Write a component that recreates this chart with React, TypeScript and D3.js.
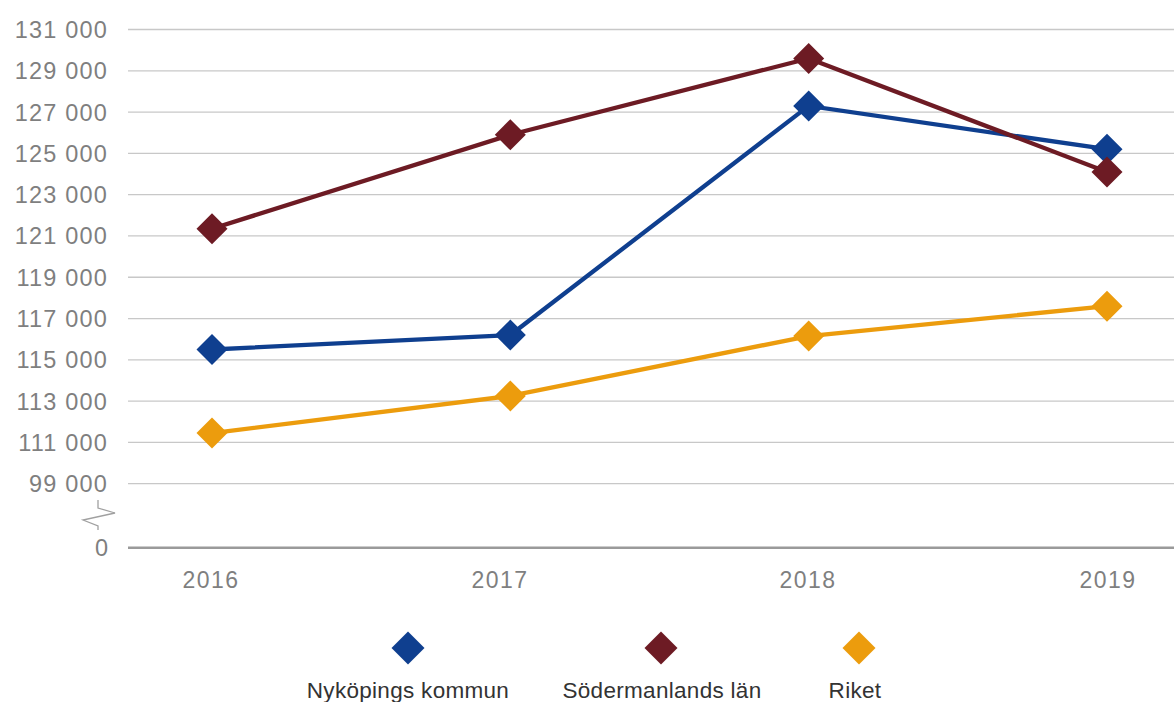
import React from "react";
import * as d3 from "d3";

const years = ["2016", "2017", "2018", "2019"];
const nykoping = [115500, 116200, 127300, 125200];
const sodermanland = [121350, 125900, 129600, 124100];
const riket = [111450, 113250, 116150, 117600];

const seriesNames = ["Nyköpings kommun", "Södermanlands län", "Riket"];
const seriesColors = ["#0f3f8f", "#6d1b24", "#ec9c0d"];

const tickValues = [131000, 129000, 127000, 125000, 123000, 121000, 119000, 117000, 115000, 113000, 111000, 109000];
const tickLabels = ["131 000", "129 000", "127 000", "125 000", "123 000", "121 000", "119 000", "117 000", "115 000", "113 000", "111 000", "99 000"];
const axisBaseValue = 105900;
const axisBaseLabel = "0";

const W = 1174;
const H = 702;

export default function App() {
  const y = d3.scaleLinear().domain([axisBaseValue, 131000]).range([547.7, 29.5]);
  const x = d3.scalePoint<string>().domain(years).range([212, 1107]);
  const line = d3
    .line<number>()
    .x((_, i) => x(years[i]) as number)
    .y((d) => y(d));
  const series = [nykoping, sodermanland, riket];
  const diamond = (cx: number, cy: number, r: number) =>
    `M${cx},${cy - r}L${cx + r},${cy}L${cx},${cy + r}L${cx - r},${cy}Z`;
  const font = "'Liberation Sans', Arial, sans-serif";
  const legendX = [408, 661, 859];
  const legendTextX = [408, 662, 855];
  const yearLabelX = [211, 500, 808, 1108];

  return (
    <svg
      width={W}
      height={H}
      style={{ position: "absolute", left: 0, top: 0, background: "#fff" }}
      fontFamily={font}
    >
      {tickValues.map((t, i) => (
        <g key={t}>
          <line x1={128} x2={W} y1={y(t)} y2={y(t)} stroke="#c8c8c8" strokeWidth={1.3} />
          <text
            x={108}
            y={y(t)}
            dy="0.36em"
            textAnchor="end"
            fontSize={23.5}
            letterSpacing={1.2}
            fill="#7f7f7f"
          >
            {tickLabels[i]}
          </text>
        </g>
      ))}
      <line x1={128} x2={W} y1={y(axisBaseValue)} y2={y(axisBaseValue)} stroke="#9a9a9a" strokeWidth={2.5} />
      <text x={108} y={y(axisBaseValue)} dy="0.36em" textAnchor="end" fontSize={23.5} fill="#7f7f7f">
        {axisBaseLabel}
      </text>
      <path
        d="M98,500V508L115,513L83,520L98,526V530"
        fill="none"
        stroke="#a0a0a0"
        strokeWidth={1.3}
      />
      {years.map((yr, i) => (
        <text
          key={yr}
          x={yearLabelX[i]}
          y={588}
          textAnchor="middle"
          fontSize={23}
          letterSpacing={1.5}
          fill="#7f7f7f"
        >
          {yr}
        </text>
      ))}
      {series.map((s, si) => (
        <g key={si}>
          <path d={line(s) || ""} fill="none" stroke={seriesColors[si]} strokeWidth={4.3} />
        </g>
      ))}
      {series.map((s, si) => (
        <g key={"m" + si}>
          {s.map((v, i) => (
            <path key={i} d={diamond(x(years[i]) as number, y(v), 15.5)} fill={seriesColors[si]} />
          ))}
        </g>
      ))}
      {seriesNames.map((n, i) => (
        <g key={n}>
          <path d={diamond(legendX[i], 648, 16.5)} fill={seriesColors[i]} />
          <text x={legendTextX[i]} y={698} textAnchor="middle" fontSize={22.5} letterSpacing={0.3} fill="#333">
            {n}
          </text>
        </g>
      ))}
    </svg>
  );
}
